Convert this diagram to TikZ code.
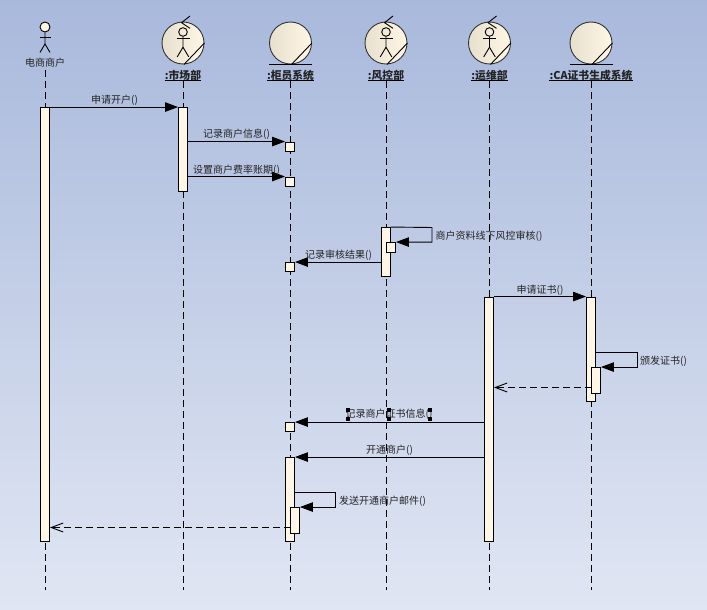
\documentclass[tikz,border=0pt]{standalone}
\usepackage{fontspec}
\setmainfont{Noto Sans CJK SC}
\usetikzlibrary{arrows.meta,calc}
\definecolor{bgtop}{RGB}{169,185,220}
\definecolor{bgbot}{RGB}{224,230,243}
\definecolor{actfill}{RGB}{255,246,232}
\definecolor{ballL}{RGB}{232,224,206}
\definecolor{ballR}{RGB}{255,246,230}
\definecolor{txt}{RGB}{35,35,35}
\tikzset{
  life/.style={draw=black,line width=0.9pt,dash pattern=on 7pt off 4pt},
  actbox/.style={draw=black,line width=0.9pt,fill=actfill,rectangle,inner sep=0pt,minimum width=9pt},
  ball/.style={draw=black!80,line width=0.9pt,circle,inner sep=0pt,minimum size=42pt,left color=ballL,right color=ballR},
  pen/.style={draw=black,line width=0.9pt},
  msg/.style={pen,-{Triangle[length=13pt,width=9.5pt]}},
  ret/.style={life,-{Straight Barb[length=12pt,width=9pt,line width=0.9pt]}},
  msgtxt/.style={font=\fontsize{10pt}{11pt}\selectfont,text=txt,inner sep=0pt},
  headtxt/.style={font=\fontsize{10.8pt}{12pt}\selectfont\bfseries,text=txt,inner sep=0pt},
  headline/.style={draw=black,line width=0.9pt},
  handle/.style={fill=black,draw=none,rectangle,inner sep=0pt,minimum width=3.6pt,minimum height=3.6pt}
}
% name, x, top, bottom
\newcommand\actat[4]{\node[actbox,minimum height={(#4-#3)*1pt}] (#1) at (#2,{(#3+#4)/2}) {};}
% ball with the little actor inside
\newcommand\worker[2]{%
  \node[ball] (#1) at (#2,43) {};
  \draw[pen] (#1.east) -- ($(#1.south)+(1,0)$);
  \draw[pen] ($(#1.center)+(7,-27)$) -- ($(#1.center)+(-1.5,-20.3)$) -- ($(#1.center)+(7,-14.7)$);
  \node[draw=black,line width=0.9pt,circle,inner sep=0pt,minimum size=8.6pt] (#1h) at (#2,32) {};
  \draw[pen] (#1h.south) -- ++(0,10.5) coordinate (#1b) -- ++(-5.8,9.7);
  \draw[pen] (#1b) -- ++(5.8,9.7);
  \draw[pen] ($(#1h.south)+(-6.5,2)$) -- ($(#1h.south)+(6.5,2)$);
}
\newcommand\entityball[2]{%
  \node[ball] (#1) at (#2,43) {};
  \draw[pen] (#1.east) -- ($(#1.south)+(1,0)$);
  \draw[pen] ($(#1.south)+(-21.5,0.5)$) -- ($(#1.south)+(21.5,0.5)$);
}
\newcommand\headlabel[3]{%
  \node[headtxt] (#1) at (#2,75.5) {#3};
  \draw[headline] ($(#1.west |- 0,80.5)$) -- ($(#1.east |- 0,80.5)$);
}
\begin{document}
\begin{tikzpicture}[x=1pt,y=-1pt]
\useasboundingbox (0,0) rectangle (707,610);
\shade[top color=bgtop,bottom color=bgbot] (0,0) rectangle (707,610);

% lifeline ends
\foreach \n/\x/\y in {a/45/70,b/183/81,c/290.5/81,d/386/81,e/489.5/81,f/591/81}{
  \coordinate (\n top) at (\x,\y);
  \coordinate (\n bot) at (\x,590);
  \draw[life] (\n top) -- (\n bot);
}

% merchant actor
\node[draw=black,line width=0.9pt,circle,inner sep=0pt,fill=ballR,minimum size=10pt] (acth) at (45,27) {};
\draw[pen] (acth.south) -- ++(0,11.5) coordinate (actb) -- ++(-5,8.5);
\draw[pen] (actb) -- ++(5,8.5);
\draw[pen] ($(acth.south)+(-5.5,5)$) -- ($(acth.south)+(5.5,5)$);
\node[msgtxt] (lab0) at (45,63) {电商商户};

% objects
\worker{w1}{183}
\entityball{s1}{290.5}
\worker{w2}{386}
\worker{w3}{489.5}
\entityball{s2}{591}
\headlabel{lab1}{183}{:市场部}
\headlabel{lab2}{290.5}{:柜员系统}
\headlabel{lab3}{386}{:风控部}
\headlabel{lab4}{489.5}{:运维部}
\headlabel{lab5}{591}{:CA证书生成系统}

% activations
\actat{A}{45}{107.5}{541.5}
\actat{B}{183}{107.5}{191}
\actat{C1}{290}{142}{151.5}
\actat{C2}{290}{177}{186.5}
\actat{D}{386}{227.5}{276.5}
\actat{D2}{391}{242.5}{252.5}
\actat{C3}{290}{262.5}{271.5}
\actat{E}{489}{297}{541.5}
\actat{F}{591}{297}{401.5}
\actat{F2}{596}{367.5}{393.5}
\actat{C4}{290}{422.5}{431.5}
\actat{C5}{290}{457.5}{541.5}
\actat{C6}{295}{507.5}{533.5}

% messages
\draw[msg] (A.north east) -- (B.north west);
\node[msgtxt] (m1) at (114.5,100) {申请开户()};
\draw[msg] (B.east |- C1.north) -- (C1.north west);
\node[msgtxt] (m2) at (236.5,134) {记录商户信息()};
\draw[msg] (B.east |- C2.north) -- (C2.north west);
\node[msgtxt] (m3) at (236.5,170) {设置商户费率账期()};

\coordinate (s1r) at (432,227.5);
\draw[msg] (D.north east) -- (s1r) -- (s1r |- D2.north) -- (D2.north east);
\node[msgtxt,anchor=west] (m4) at (435.5,236) {商户资料线下风控审核()};
\draw[msg] (D.west |- C3.north) -- (C3.north east);
\node[msgtxt] (m5) at (338.5,255) {记录审核结果()};

\draw[msg] (E.north east) -- (F.north west);
\node[msgtxt] (m6) at (540,290) {申请证书()};
\coordinate (s2r) at (637,352);
\draw[msg] (F.east |- s2r) -- (s2r) -- (s2r |- F2.north) -- (F2.north east);
\node[msgtxt,anchor=west] (m7) at (640,361) {颁发证书()};
\coordinate (r1) at (591.5,387.5);
\draw[ret] (r1) -- (E.east |- r1);

\draw[msg] (E.west |- C4.north) -- (C4.north east);
\node[msgtxt] (m8) at (389,414) {记录商户证书信息()};
\foreach \n/\x/\y in {h1/348/409.8,h2/348/418.8,h3/389/409.8,h4/389/418.8,h5/430/409.8,h6/430/418.8}{
  \node[handle] (\n) at (\x,\y) {};
}
\draw[msg] (E.west |- C5.north) -- (C5.north east);
\node[msgtxt] (m9) at (389.5,450) {开通商户()};
\coordinate (s3r) at (335.5,492.5);
\draw[msg] (C5.east |- s3r) -- (s3r) -- (s3r |- C6.north) -- (C6.north east);
\node[msgtxt,anchor=west] (m10) at (339,501) {发送开通商户邮件()};
\coordinate (r2) at (290.5,527.5);
\draw[ret] (r2) -- (A.east |- r2);
\end{tikzpicture}
\end{document}
